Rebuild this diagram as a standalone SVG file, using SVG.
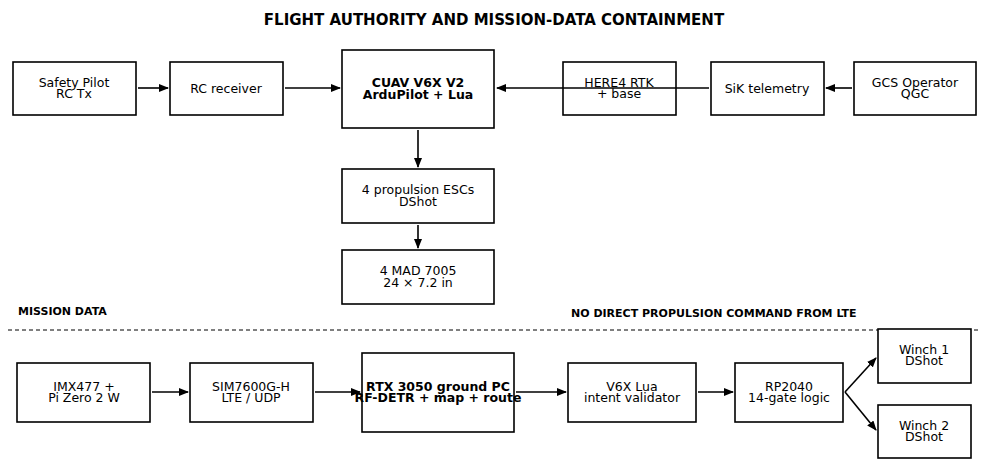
<svg xmlns="http://www.w3.org/2000/svg" width="989" height="466" viewBox="0 0 989 466">
<style>
.b{fill:#fff;stroke:#000;stroke-width:1.6}
text{font-family:"DejaVu Sans",sans-serif;font-size:12.5px;text-anchor:middle;fill:#000}
.bd{font-weight:bold}
.s{font-size:11px;font-weight:bold;text-anchor:start}
.c line{stroke:#000;stroke-width:1.6;marker-end:url(#a)}
</style>
<defs><marker id="a" markerWidth="10" markerHeight="8" refX="9" refY="4" orient="auto" markerUnits="userSpaceOnUse"><path d="M0,0L10,4L0,8z"/></marker></defs>
<rect width="989" height="466" fill="#fff"/>
<text x="494" y="25" class="bd" style="font-size:15px">FLIGHT AUTHORITY AND MISSION-DATA CONTAINMENT</text>
<text x="18" y="315" class="s">MISSION DATA</text>
<text x="571" y="317" class="s">NO DIRECT PROPULSION COMMAND FROM LTE</text>
<line x1="8" y1="330" x2="981" y2="330" stroke="#000" stroke-dasharray="4,3"/>
<g class="c">
<line x1="138" y1="88" x2="168" y2="88"/>
<line x1="285" y1="88" x2="340" y2="88"/>
<line x1="709" y1="88" x2="497" y2="88"/>
<line x1="852" y1="88" x2="826" y2="88"/>
<line x1="418" y1="130" x2="418" y2="167"/>
<line x1="418" y1="225" x2="418" y2="248"/>
<line x1="152" y1="392" x2="188" y2="392"/>
<line x1="315" y1="392" x2="360" y2="392"/>
<line x1="516" y1="392" x2="566" y2="392"/>
<line x1="698" y1="392" x2="733" y2="392"/>
<line x1="845" y1="392" x2="876" y2="358"/>
<line x1="845" y1="392" x2="876" y2="430"/>
</g>
<g id="n1"><rect class="b" x="13" y="62" width="123" height="53"/><text x="74" y="87">Safety Pilot</text><text x="74" y="98">RC Tx</text></g>
<g id="n2"><rect class="b" x="170" y="62" width="113" height="53"/><text x="226" y="93">RC receiver</text></g>
<g id="n3"><rect class="b" x="342" y="50" width="152" height="78"/><text x="418" y="87" class="bd">CUAV V6X V2</text><text x="418" y="99" class="bd">ArduPilot + Lua</text></g>
<g id="n4"><rect class="b" x="563" y="62" width="113" height="53" fill-opacity="0"/><text x="619" y="87">HERE4 RTK</text><text x="619" y="98">+ base</text></g>
<g id="n5"><rect class="b" x="711" y="62" width="113" height="53"/><text x="767" y="93">SiK telemetry</text></g>
<g id="n6"><rect class="b" x="854" y="62" width="122" height="53"/><text x="915" y="87">GCS Operator</text><text x="915" y="98">QGC</text></g>
<g id="n7"><rect class="b" x="342" y="169" width="152" height="54"/><text x="418" y="194">4 propulsion ESCs</text><text x="418" y="206">DShot</text></g>
<g id="n8"><rect class="b" x="342" y="250" width="152" height="54"/><text x="418" y="275">4 MAD 7005</text><text x="418" y="287">24 × 7.2 in</text></g>
<g id="n9"><rect class="b" x="17" y="363" width="133" height="59"/><text x="84" y="391">IMX477 +</text><text x="84" y="402">Pi Zero 2 W</text></g>
<g id="n10"><rect class="b" x="190" y="363" width="123" height="59"/><text x="251" y="391">SIM7600G-H</text><text x="251" y="402">LTE / UDP</text></g>
<g id="n11"><rect class="b" x="362" y="353" width="152" height="79"/><text x="438" y="391" class="bd">RTX 3050 ground PC</text><text x="438" y="402" class="bd">RF-DETR + map + route</text></g>
<g id="n12"><rect class="b" x="568" y="363" width="128" height="59"/><text x="632" y="391">V6X Lua</text><text x="632" y="402">intent validator</text></g>
<g id="n13"><rect class="b" x="735" y="363" width="108" height="59"/><text x="789" y="391">RP2040</text><text x="789" y="402">14-gate logic</text></g>
<g id="n14"><rect class="b" x="878" y="329" width="93" height="54"/><text x="924" y="354">Winch 1</text><text x="924" y="365">DShot</text></g>
<g id="n15"><rect class="b" x="878" y="405" width="93" height="53"/><text x="924" y="430">Winch 2</text><text x="924" y="441">DShot</text></g>
</svg>
